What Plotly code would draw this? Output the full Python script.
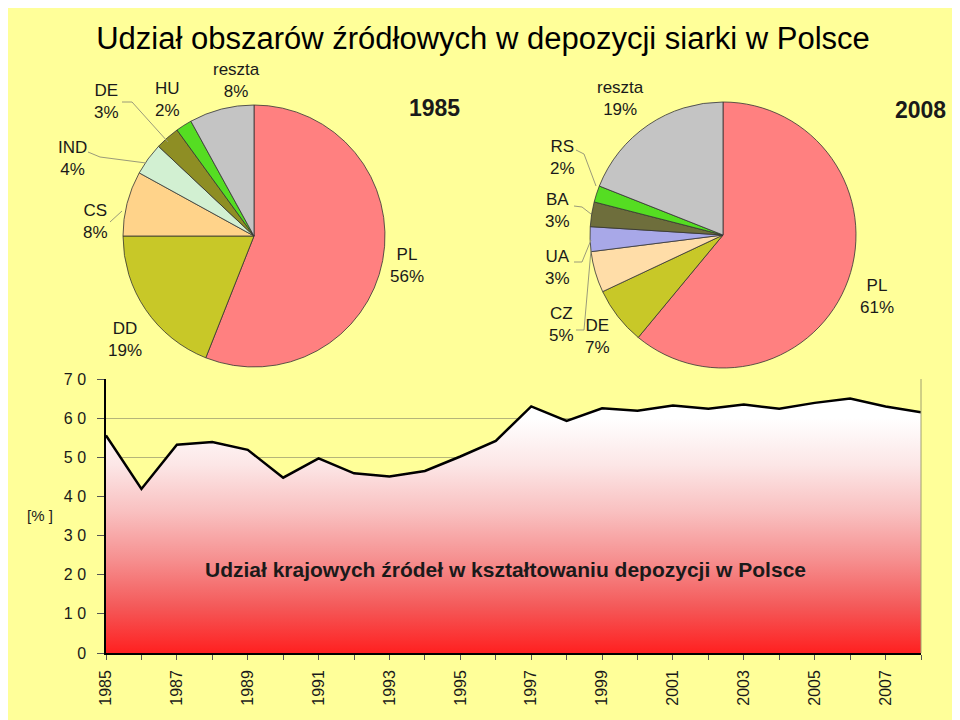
import plotly.graph_objects as go

# share of domestic sources in sulphur deposition in Poland [%]
years = list(range(1985, 2009))
share_pl = [55.6, 41.9, 53.2, 53.9, 51.9, 44.8, 49.7, 45.9, 45.1, 46.5, 50.2, 54.2,
            63.0, 59.3, 62.5, 61.9, 63.2, 62.4, 63.5, 62.4, 63.9, 65.0, 63.0, 61.5]
y_ticks = [0, 10, 20, 30, 40, 50, 60, 70]
y_ticktext = ["0", "1 0", "2 0", "3 0", "4 0", "5 0", "6 0", "7 0"]

labels_1985 = ["PL", "DD", "CS", "IND", "DE", "HU", "reszta"]
values_1985 = [56, 19, 8, 4, 3, 2, 8]
colors_1985 = ["#FF8080", "#C8C828", "#FFD38A", "#D2F0D2", "#8E8E24", "#55DD22", "#C4C4C4"]

labels_2008 = ["PL", "DE", "CZ", "UA", "BA", "RS", "reszta"]
values_2008 = [61, 7, 5, 3, 3, 2, 19]
colors_2008 = ["#FF8080", "#C8C828", "#FFDDA8", "#A8A8E8", "#6E6E3C", "#55DD22", "#C4C4C4"]

BG = "#FFFF99"
FONT = "Liberation Sans, Arial, sans-serif"
PAGE_PAD = 8  # default body margin of the html page
W, H = 960 - PAGE_PAD, 720 - PAGE_PAD


def px(x):
    return (x - PAGE_PAD) / W


def py(y):
    return 1 - (y - PAGE_PAD) / H


# label text centres in screen pixels, same order as the labels above
pos_1985 = [(407, 265), (125, 339), (95, 221), (72, 159), (106, 101), (167, 100), (236, 80)]
pos_2008 = [(877, 296), (597, 336), (561, 324), (557, 267), (557, 210), (562, 157), (620, 98)]

# leader lines (screen pixels)
leaders = [
    [(122, 102), (132, 102), (168, 142)],
    [(88, 152), (100, 157), (146, 163)],
    [(110, 222), (122, 211)],
    [(576, 150), (584, 154), (596, 186)],
    [(574, 206), (582, 207), (591, 214)],
    [(574, 262), (582, 262), (591, 240)],
    [(576, 330), (584, 330), (591, 250)],
]

fig = go.Figure()

fig.add_trace(go.Pie(
    labels=labels_1985, values=values_1985, sort=False, direction="clockwise",
    marker=dict(colors=colors_1985, line=dict(color="#333333", width=0.8)),
    textinfo="none", hoverinfo="label+percent", showlegend=False,
    domain=dict(x=[px(123), px(385)], y=[py(367), py(105)]),
))
fig.add_trace(go.Pie(
    labels=labels_2008, values=values_2008, sort=False, direction="clockwise",
    marker=dict(colors=colors_2008, line=dict(color="#333333", width=0.8)),
    textinfo="none", hoverinfo="label+percent", showlegend=False,
    domain=dict(x=[px(590), px(856)], y=[py(368), py(102)]),
))

fig.add_trace(go.Scatter(
    x=years, y=share_pl, mode="lines", fill="tozeroy",
    line=dict(color="black", width=2.5),
    fillgradient=dict(type="vertical", start=0, stop=60,
                      colorscale=[[0, "#FF2020"], [0.2, "#F45A5A"], [0.4, "#F69090"],
                                  [0.6, "#F9C0C0"], [0.8, "#FCE6E6"], [1, "#FFFFFF"]]),
    showlegend=False, hovertemplate="%{x}: %{y}%<extra></extra>",
))


def note(text, x, y, size, family=FONT):
    return dict(text=text, x=px(x), y=py(y), xref="paper", yref="paper",
                xanchor="center", yanchor="middle", showarrow=False,
                font=dict(family=family, size=size, color="#1a1a1a"))


annotations = []
for labs, vals, pos in [(labels_1985, values_1985, pos_1985),
                        (labels_2008, values_2008, pos_2008)]:
    for lab, val, (x, y) in zip(labs, vals, pos):
        annotations.append(note(f"{lab}<br>{val}%", x, y, 17))

annotations += [
    note("<b>1985</b>", 434, 108, 23),
    note("<b>2008</b>", 920, 110, 23),
    note("[% ]", 40, 515, 15),
    note("<b>Udział krajowych źródeł w kształtowaniu depozycji w Polsce</b>", 505, 569, 21,
         family="Liberation Sans Narrow, Arial Narrow, sans-serif"),
]

shapes = []
for pts in leaders:
    for (x0, y0), (x1, y1) in zip(pts[:-1], pts[1:]):
        shapes.append(dict(type="line", xref="paper", yref="paper",
                           x0=px(x0), y0=py(y0), x1=px(x1), y1=py(y1),
                           line=dict(color="#9a9a7a", width=1)))
# right frame of the plot area
shapes.append(dict(type="line", xref="x domain", yref="y domain", x0=1, x1=1, y0=0, y1=1,
                   line=dict(color="#a0a070", width=1)))

fig.update_layout(
    width=W, height=H,
    margin=dict(l=0, r=0, t=0, b=0),
    paper_bgcolor=BG, plot_bgcolor=BG,
    font=dict(family=FONT, color="#1a1a1a"),
    title=dict(text="Udział obszarów źródłowych w depozycji siarki w Polsce",
               x=px(483), y=py(38), xanchor="center", yanchor="middle",
               font=dict(family=FONT, size=31, color="black")),
    xaxis=dict(domain=[px(106), px(921)], range=[1985, 2008],
               tickmode="array", tickvals=years[:-1:2], tickangle=-90,
               ticks="outside", ticklen=5, tickcolor="#555",
               minor=dict(dtick=1, tick0=1985, ticks="outside", ticklen=5, tickcolor="#555"),
               showgrid=False, showline=True, linecolor="black", linewidth=1.5,
               tickfont=dict(size=16), ticklabelstandoff=4,
               automargin=False, zeroline=False),
    yaxis=dict(domain=[py(653), py(379)], range=[0, 70],
               tickmode="array", tickvals=y_ticks, ticktext=y_ticktext,
               ticks="outside", ticklen=7, tickcolor="#555",
               showgrid=True, gridcolor="#b5b57a", gridwidth=1,
               showline=True, linecolor="black", linewidth=1.5,
               tickfont=dict(size=16), ticklabelstandoff=8,
               automargin=False, zeroline=False),
    annotations=annotations,
    shapes=shapes,
)

fig.write_html("out.html")
